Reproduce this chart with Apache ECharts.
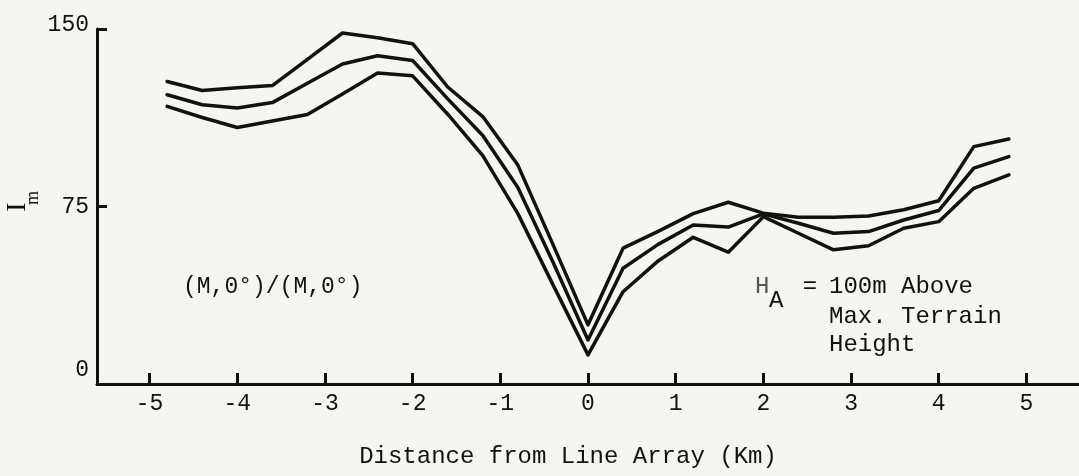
<!DOCTYPE html>
<html>
<head>
<meta charset="utf-8">
<script src="https://cdn.jsdelivr.net/npm/echarts@6/dist/echarts.min.js"></script>
<style>
  html, body { margin: 0; padding: 0; background: #f5f5f3; }
  #chart { width: 1079px; height: 476px; }
</style>
</head>
<body>
<div id="chart"></div>
<script>
// Distance from line array (km) at which the curves were sampled
const distanceKm = [-4.8, -4.4, -4.0, -3.6, -3.2, -2.8, -2.4, -2.0, -1.6, -1.2, -0.8, -0.4, 0,
                    0.4, 0.8, 1.2, 1.6, 2.0, 2.4, 2.8, 3.2, 3.6, 4.0, 4.4, 4.8];
// I_m values of the three curves (upper, middle, lower)
const upperIm  = [127.8, 124.0, 125.2, 126.1, 137.2, 148.3, 146.3, 143.8, 125.5, 113.0, 92.5, 59.0, 25.0,
                  57.4, 64.5, 72.0, 76.8, 72.2, 70.5, 70.5, 71.0, 73.6, 77.4, 100.3, 103.5];
const middleIm = [122.2, 118.0, 116.6, 118.9, 127.1, 135.2, 138.7, 136.7, 120.5, 105.0, 83.0, 51.5, 18.6,
                  48.9, 59.0, 67.2, 66.3, 71.9, 67.9, 63.7, 64.4, 69.3, 73.3, 91.2, 96.1];
const lowerIm  = [117.3, 112.6, 108.4, 111.1, 113.9, 122.5, 131.4, 130.2, 114.0, 96.5, 72.0, 42.0, 12.3,
                  39.0, 52.0, 62.0, 55.7, 70.7, 63.7, 56.7, 58.4, 65.8, 68.6, 82.7, 88.4];
// Axis ticks
const xTicks = [-5, -4, -3, -2, -1, 0, 1, 2, 3, 4, 5];

const ink = '#111111';
const mono = '"Liberation Mono", "DejaVu Sans Mono", monospace';
const pair = arr => distanceKm.map((x, i) => [x, arr[i]]);

const chart = echarts.init(document.getElementById('chart'), null, { renderer: 'canvas' });

const lineSeries = (name, arr) => ({
  name: name,
  type: 'line',
  data: pair(arr),
  symbol: 'none',
  smooth: false,
  silent: true,
  lineStyle: { color: ink, width: 3.5, join: 'round', cap: 'round' }
});

chart.setOption({
  backgroundColor: '#f5f5f3',
  animation: false,
  grid: { left: 97, right: 0, top: 29, bottom: 92, containLabel: false },
  xAxis: {
    type: 'value',
    min: -5.6,
    max: 5.6,
    name: 'Distance from Line Array (Km)',
    nameLocation: 'middle',
    nameGap: 61,
    nameTextStyle: { fontFamily: mono, fontSize: 24, color: ink, padding: [0, 40, 0, 0] },
    axisLine: { show: true, onZero: false, lineStyle: { color: ink, width: 3 } },
    axisTick: { show: true, inside: true, length: 11, customValues: xTicks, lineStyle: { color: ink, width: 3 } },
    axisLabel: { customValues: xTicks, fontFamily: mono, fontSize: 23, color: ink, margin: 8,
                 formatter: v => String(v) },
    splitLine: { show: false }
  },
  yAxis: {
    type: 'value',
    min: 0,
    max: 150,
    interval: 75,
    axisLine: { show: true, onZero: false, lineStyle: { color: ink, width: 3 } },
    axisTick: { show: true, inside: true, length: 10, lineStyle: { color: ink, width: 3 } },
    axisLabel: {
      fontFamily: mono, fontSize: 23, color: ink, margin: 8,
      formatter: v => v === 0 ? '{z|0}' : (v === 150 ? '{t|150}' : String(v)),
      rich: {
        z: { fontFamily: mono, fontSize: 23, color: ink, padding: [0, 0, 28, 0] },
        t: { fontFamily: mono, fontSize: 23, color: ink, padding: [0, 0, 8, 0] }
      }
    },
    splitLine: { show: false }
  },
  graphic: [
    { type: 'text', x: 18, y: 207, rotation: Math.PI / 2,
      style: { text: 'I', font: '28px "Liberation Serif", serif', fill: ink, align: 'center', verticalAlign: 'middle' } },
    { type: 'text', x: 33, y: 198, rotation: Math.PI / 2,
      style: { text: 'm', font: '18px "Liberation Serif", serif', fill: ink, align: 'center', verticalAlign: 'middle' } },
    { type: 'text', x: 183, y: 287,
      style: { text: '(M,0°)/(M,0°)', font: '23px ' + mono, fill: ink, align: 'left', verticalAlign: 'middle' } },
    { type: 'text', x: 755, y: 287,
      style: { text: 'H', font: '24px ' + mono, fill: '#555', align: 'left', verticalAlign: 'middle' } },
    { type: 'text', x: 769, y: 301,
      style: { text: 'A', font: '24px ' + mono, fill: ink, align: 'left', verticalAlign: 'middle' } },
    { type: 'text', x: 810, y: 287,
      style: { text: '=', font: '24px ' + mono, fill: ink, align: 'center', verticalAlign: 'middle' } },
    { type: 'text', x: 829, y: 287,
      style: { text: '100m Above', font: '24px ' + mono, fill: ink, align: 'left', verticalAlign: 'middle' } },
    { type: 'text', x: 829, y: 317,
      style: { text: 'Max. Terrain', font: '24px ' + mono, fill: ink, align: 'left', verticalAlign: 'middle' } },
    { type: 'text', x: 829, y: 345,
      style: { text: 'Height', font: '24px ' + mono, fill: ink, align: 'left', verticalAlign: 'middle' } }
  ],
  series: [
    lineSeries('Upper', upperIm),
    lineSeries('Middle', middleIm),
    lineSeries('Lower', lowerIm)
  ]
});
</script>
</body>
</html>
